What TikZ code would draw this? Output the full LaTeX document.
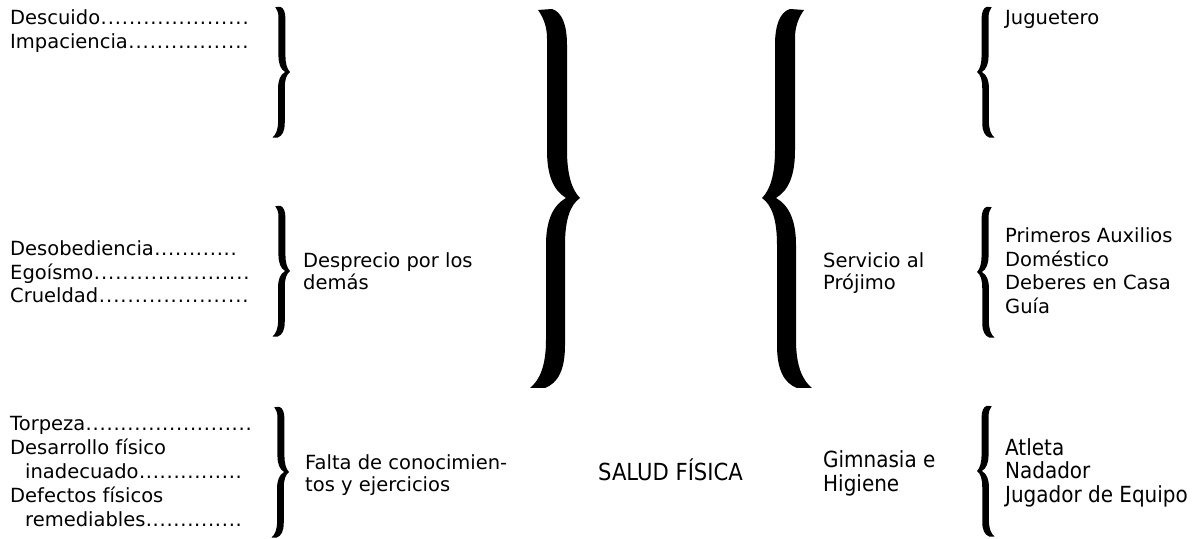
\documentclass[tikz,border=0pt]{standalone}
\usepackage{fontspec}
\setmainfont{DejaVu Sans}
\newfontfamily\condfont{DejaVu Sans Condensed}
\newcommand\dotline[2]{\hbox to #2bp{#1\xleaders\hbox to 6.9bp{\hss.\hss}\hfill}}
\begin{document}
\begin{tikzpicture}[x=1bp,y=-1bp,
  txt/.style={anchor=base west, inner sep=0pt, font=\fontsize{19.5bp}{23.5bp}\selectfont},
  ctxt/.style={anchor=base west, inner sep=0pt, font=\condfont\fontsize{22.2bp}{25bp}\selectfont},
  bracepath/.pic={
    \fill[black] (-42,-188) -- (-28,-189)
      .. controls (-18,-186) and (-13,-173) .. (-13,-153)
      -- (-13,-48) .. controls (-13,-23) and (-8,-8) .. (0,0)
      .. controls (-10,7) and (-15,22) .. (-15,47)
      -- (-15,147) .. controls (-15,172) and (-22,185) .. (-35,190)
      -- (-50,190) .. controls (-40,182) and (-34,167) .. (-34,142)
      -- (-34,47) .. controls (-34,24) and (-28,8) .. (-14,0)
      .. controls (-27,-8) and (-33,-23) .. (-33,-48)
      -- (-33,-160) .. controls (-33,-172) and (-37,-181) .. (-42,-188) -- cycle;
  },
  smallR/.style={xscale=0.35,yscale=0.345},
  smallL/.style={xscale=-0.35,yscale=0.345}]
\fill[white] (0,0) rectangle (1199,539);
\useasboundingbox (0,0) rectangle (1199,539);

% braces
\pic (bigR) at (580,198) {bracepath};
\pic[xscale=-1] (bigL) at (762,198) {bracepath};
\pic[smallR] (b1) at (290,72) {bracepath};
\pic[smallR] (b2) at (290,271) {bracepath};
\pic[smallR] (b3) at (289,472) {bracepath};
\pic[smallL] (b4) at (977,72) {bracepath};
\pic[smallL] (b5) at (977,272) {bracepath};
\pic[smallL] (b6) at (977,471) {bracepath};

% left column
\node[txt] (l1) at (10,25) {\dotline{Descuido}{239}};
\node[txt] (l2) at (10,48.5) {\dotline{Impaciencia}{239}};
\node[txt] (l3) at (10,256) {\dotline{Desobediencia}{227}};
\node[txt] (l4) at (10,279.5) {\dotline{Egoísmo}{240}};
\node[txt] (l5) at (10,303) {\dotline{Crueldad}{239}};
\node[txt] (l6) at (10,430) {\dotline{Torpeza}{242}};
\node[txt] (l7) at (10,454) {Desarrollo físico};
\node[txt] (l8) at (10,478) {\dotline{\hspace*{15bp}inadecuado}{232}};
\node[txt] (l9) at (10,502) {Defectos físicos};
\node[txt] (l10) at (10,526.5) {\dotline{\hspace*{15bp}remediables}{232}};

% middle-left
\node[txt] (m1) at (303,268) {Desprecio por los};
\node[txt] (m2) at (303,290) {demás};
\node[txt] (m3) at (305,469) {Falta de conocimien-};
\node[txt] (m4) at (305,491) {tos y ejercicios};

% centre
\node[ctxt, font=\condfont\fontsize{23.5bp}{26bp}\selectfont] (c1) at (598,480) {SALUD FÍSICA};

% middle-right
\node[txt] (r1) at (823,268) {Servicio al};
\node[txt] (r2) at (823,290) {Prójimo};
\node[ctxt] (r3) at (823,467) {Gimnasia e};
\node[ctxt] (r4) at (823,491) {Higiene};

% right column
\node[txt] (s1) at (1005,25) {Juguetero};
\node[txt] (s2) at (1005,243) {Primeros Auxilios};
\node[txt] (s3) at (1005,266.5) {Doméstico};
\node[txt] (s4) at (1005,290) {Deberes en Casa};
\node[txt] (s5) at (1005,313.5) {Guía};
\node[ctxt] (s6) at (1005,455) {Atleta};
\node[ctxt] (s7) at (1005,478.5) {Nadador};
\node[ctxt] (s8) at (1005,502) {Jugador de Equipo};
\end{tikzpicture}
\end{document}
